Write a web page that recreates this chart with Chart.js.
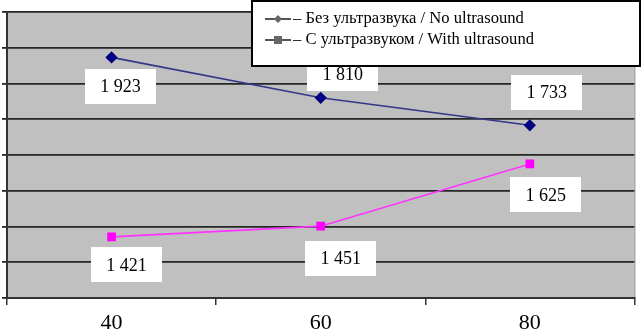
<!DOCTYPE html>
<html><head><meta charset="utf-8">
<script src="https://cdn.jsdelivr.net/npm/chart.js@4"></script>
<style>
html,body{margin:0;padding:0;background:#fff;}
#wrap{position:relative;width:641px;height:331px;}
#legend{position:absolute;left:251px;top:0px;width:386px;height:63px;background:#fff;border:2px solid #000;box-sizing:content-box;font-family:"Liberation Serif","Times New Roman",serif;font-size:16.6px;color:#000;}
.row{position:absolute;left:12px;height:18px;line-height:18px;white-space:nowrap;}
.row canvas{vertical-align:middle;margin-right:2px;}
</style></head>
<body><div id="wrap"><canvas id="c" width="641" height="331"></canvas>
<div id="legend"></div></div>
<script>
const categories = ["40", "60", "80"];
const seriesNames = ["– Без ультразвука / No ultrasound", "– С ультразвуком / With ultrasound"];
const noUltrasound = [1923, 1810, 1733];
const withUltrasound = [1421, 1451, 1625];
const dataLabels = [["1 923", "1 810", "1 733"], ["1 421", "1 451", "1 625"]];
// label placement relative to each point (dx, dy in px)
const labelOffsets = [[[9, 29], [22, -24], [17, -33]], [[15, 28], [20, 32], [16, 31]]];

const labelPlugin = {
  id: 'boxLabels',
  afterDatasetsDraw(chart) {
    const ctx = chart.ctx;
    ctx.save();
    ctx.font = '18px "Liberation Serif", "Times New Roman", serif';
    ctx.textAlign = 'center';
    ctx.textBaseline = 'middle';
    chart.data.datasets.forEach((ds, di) => {
      const meta = chart.getDatasetMeta(di);
      meta.data.forEach((pt, i) => {
        const [dx, dy] = labelOffsets[di][i];
        const cx = pt.x + dx, cy = pt.y + dy;
        const w = 71, h = 35;
        ctx.fillStyle = '#fff';
        ctx.fillRect(Math.round(cx - w / 2), Math.round(cy - h / 2), w, h);
        ctx.fillStyle = '#000';
        ctx.fillText(dataLabels[di][i], cx, cy + 1);
      });
    });
    ctx.restore();
  }
};
const bgPlugin = {
  id: 'plotBg',
  beforeDraw(chart) {
    const a = chart.chartArea, ctx = chart.ctx;
    ctx.save();
    ctx.fillStyle = '#c0c0c0';
    ctx.fillRect(a.left, a.top, a.right - a.left, a.bottom - a.top);
    ctx.strokeStyle = '#8a8a8a';
    ctx.lineWidth = 1;
    ctx.beginPath();
    ctx.moveTo(a.right + 0.5, a.top); ctx.lineTo(a.right + 0.5, a.bottom);
    ctx.stroke();
    ctx.restore();
  }
};

new Chart(document.getElementById('c'), {
  type: 'line',
  data: {
    labels: categories,
    datasets: [
      { label: seriesNames[0], data: noUltrasound, borderColor: '#35358a', borderWidth: 1.6,
        pointStyle: 'rectRot', pointRadius: 5, pointBackgroundColor: '#000080', pointBorderColor: '#000080', tension: 0 },
      { label: seriesNames[1], data: withUltrasound, borderColor: '#ff33ff', borderWidth: 1.6,
        pointStyle: 'rect', pointRadius: 5, pointBackgroundColor: '#ff00ff', pointBorderColor: '#ff00ff', tension: 0 }
    ]
  },
  options: {
    responsive: false, animation: false, devicePixelRatio: 1,
    layout: { padding: { top: 12, right: 3, left: 0, bottom: 0 } },
    plugins: { legend: { display: false }, tooltip: { enabled: false } },
    scales: {
      x: {
        offset: true,
        grid: { offset: true, drawOnChartArea: false, drawTicks: true, tickLength: 7, color: '#333', lineWidth: 1.5 },
        border: { display: true, color: '#333', width: 2 },
        ticks: { color: '#000', font: { family: '"Liberation Serif", "Times New Roman", serif', size: 22 }, padding: 5 },
        afterFit(s) { s.height = 33; }
      },
      y: {
        min: 1250, max: 2050,
        ticks: { stepSize: 100, display: false },
        grid: { color: '#262626', lineWidth: 1.8, tickLength: 5, drawTicks: true },
        border: { display: true, color: '#333', width: 2 },
        afterFit(s) { s.width = 7; }
      }
    }
  },
  plugins: [bgPlugin, labelPlugin]
});

// legend
const leg = document.getElementById('legend');
const styles = ['rectRot', 'rect'];
seriesNames.forEach((name, i) => {
  const row = document.createElement('div');
  row.className = 'row';
  row.style.top = (i === 0 ? 7 : 28) + 'px';
  const m = document.createElement('canvas');
  m.width = 26; m.height = 12;
  const c = m.getContext('2d');
  c.strokeStyle = '#555'; c.lineWidth = 2;
  c.beginPath(); c.moveTo(0, 6); c.lineTo(26, 6); c.stroke();
  c.fillStyle = '#666';
  if (styles[i] === 'rectRot') {
    c.beginPath(); c.moveTo(13, 2); c.lineTo(17, 6); c.lineTo(13, 10); c.lineTo(9, 6); c.closePath(); c.fill();
  } else {
    c.fillRect(9, 2, 8, 8);
  }
  row.appendChild(m);
  row.appendChild(document.createTextNode(name));
  leg.appendChild(row);
});
</script>
</body></html>
